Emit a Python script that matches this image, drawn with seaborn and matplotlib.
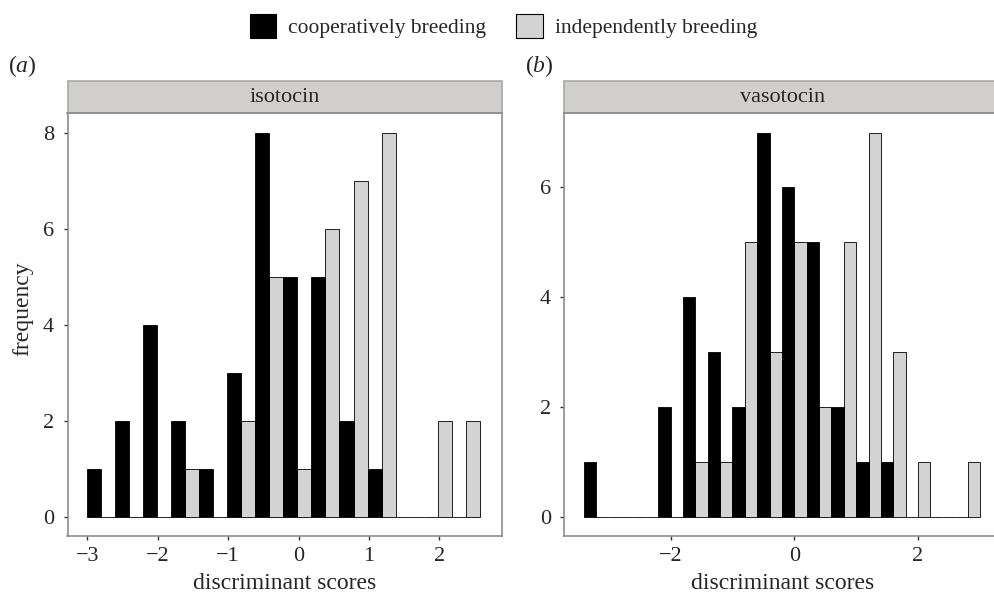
import numpy as np
import pandas as pd
import matplotlib.pyplot as plt
import seaborn as sns
from matplotlib.patches import Patch, Rectangle

# histogram counts (one value per bin)
groups = ['cooperatively breeding', 'independently breeding']
iso_start, iso_width = -3.0, 0.398
iso_coop = [1, 2, 4, 2, 1, 3, 8, 5, 5, 2, 1, 0, 0, 0]
iso_indep = [0, 0, 0, 1, 0, 2, 5, 1, 6, 7, 8, 0, 2, 2]

vaso_start, vaso_width = -3.41, 0.401
vaso_coop = [1, 0, 0, 2, 4, 3, 2, 7, 6, 5, 2, 1, 1, 0, 0, 0]
vaso_indep = [0, 0, 0, 0, 1, 1, 5, 3, 5, 2, 5, 7, 3, 1, 0, 1]

palette = {groups[0]: '#000000', groups[1]: '#d3d3d3'}

sns.set_theme(style='white')
plt.rcParams['font.family'] = ['Liberation Serif', 'DejaVu Serif']
plt.rcParams['mathtext.fontset'] = 'custom'
plt.rcParams['mathtext.rm'] = 'Liberation Serif'
plt.rcParams['mathtext.it'] = 'Liberation Serif:italic'


def make_df(start, width, coop, indep):
    n = len(coop)
    edges = start + width * np.arange(n + 1)
    centers = (edges[:-1] + edges[1:]) / 2
    df = pd.DataFrame({
        'score': np.concatenate([centers, centers]),
        'count': list(coop) + list(indep),
        'group': [groups[0]] * n + [groups[1]] * n,
    })
    return df, [float(e) for e in edges]


fig = plt.figure(figsize=(9.95, 5.95), dpi=100)
W, H = 995, 595


def add_axes(left, right, top, bottom):
    return fig.add_axes([left / W, 1 - bottom / H, (right - left) / W, (bottom - top) / H])


ax1 = add_axes(67.5, 502, 113.3, 536)
ax2 = add_axes(564.3, 1000, 113.3, 536)

panels = [
    (ax1, iso_start, iso_width, iso_coop, iso_indep, 'isotocin', (-3.281, 2.89), (-0.4, 8.4), [0, 2, 4, 6, 8], [-3, -2, -1, 0, 1, 2]),
    (ax2, vaso_start, vaso_width, vaso_coop, vaso_indep, 'vasotocin', (-3.727, 3.33), (-0.35, 7.35), [0, 2, 4, 6], [-2, 0, 2]),
]

for ax, start, width, coop, indep, title, xl, yl, yt, xt in panels:
    df, edges = make_df(start, width, coop, indep)
    sns.histplot(data=df, x='score', weights='count', hue='group', hue_order=groups,
                 bins=edges, multiple='dodge', shrink=1, palette=palette, alpha=1,
                 edgecolor='black', linewidth=0.6, legend=False, ax=ax)
    ax.set_xlim(*xl)
    ax.set_ylim(*yl)
    ax.set_yticks(yt)
    ax.set_xticks(xt)
    ax.set_ylabel('')
    ax.set_xlabel('discriminant scores', fontsize=17)
    ax.xaxis.set_label_coords(0.5, -0.1254)
    ax.xaxis.label.set_va('baseline')
    ax.tick_params(axis='both', labelsize=16, length=3.2, width=1, color='#333333',
                   left=True, bottom=True)
    ax.tick_params(axis='x', pad=4.5)
    ax.tick_params(axis='y', pad=6.5)
    for sp in ax.spines.values():
        sp.set_color('#8c8c8c')
        sp.set_linewidth(1.2)
    # facet strip
    sh = 32 / 422.7
    ax.add_patch(Rectangle((0, 1), 1, sh, transform=ax.transAxes, clip_on=False,
                           facecolor='#d0cfce', edgecolor='#a8a8a8', linewidth=1.2))
    ax.text(0.5, 1 + sh / 2, title, transform=ax.transAxes, ha='center', va='center',
            fontsize=16)

ax1.set_ylabel('frequency', fontsize=17)
ax1.yaxis.set_label_coords((23 - 67.5) / 434.5, (536 - 309) / 422.7)
ax1.yaxis.label.set_va('center')

fig.text(8 / W, 1 - 66 / H, r'($\it{a}$)', fontsize=17, ha='left', va='center')
fig.text(525 / W, 1 - 66 / H, r'($\it{b}$)', fontsize=17, ha='left', va='center')

handles = [Patch(facecolor=palette[g], edgecolor='black', linewidth=0.8) for g in groups]
fig.legend(handles, groups, loc='upper center', bbox_to_anchor=(503.5 / W, 1.0), ncol=2,
           frameon=False, fontsize=15.5, handlelength=1.25, handleheight=1.35,
           columnspacing=1.4, handletextpad=0.55, borderaxespad=0.25)

fig.savefig('out.png', dpi=100)
